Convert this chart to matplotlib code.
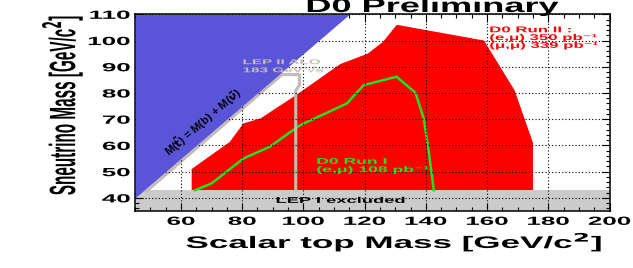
import numpy as np
import matplotlib

matplotlib.use("Agg")
import matplotlib.pyplot as plt
from matplotlib.patheffects import AbstractPathEffect
from matplotlib.ticker import MultipleLocator
from matplotlib.transforms import Affine2D

# exclusion contours in the (scalar top mass, sneutrino mass) plane, GeV/c^2
run2_x = [63.5, 63.5, 76, 80.4, 86, 98, 112, 121, 126, 130.5, 159, 169, 175, 175]
run2_y = [43, 51, 61.4, 68.4, 70.3, 79.5, 91, 95, 99.5, 106, 100, 81, 61, 43]

run1_x = [64.6, 70, 80.4, 89, 98.9, 114.2, 119.7, 130.4, 136.6, 139.3, 140.9, 142.6]
run1_y = [42.9, 45.5, 55, 59.5, 67.7, 76, 83, 86.2, 80.1, 70.3, 58.2, 42.9]

lep2_x = [48.8, 93, 98.7, 98.7, 97.5, 97.5]
lep2_y = [42.6, 87, 87, 83, 81, 43]

lep1_limit = 43.0
m_b = 5.0
kin_x = np.array([45.0, 115.0])

x_ticks = [60, 80, 100, 120, 140, 160, 180, 200]
y_ticks = [40, 50, 60, 70, 80, 90, 100, 110]

run2_label = "D0 Run II :\n(e,\u03bc) 350 pb\u207b\u00b9\n(\u03bc,\u03bc) 339 pb\u207b\u00b9"
run1_label = "D0 Run I\n(e,\u03bc) 108 pb\u207b\u00b9"

BLUE = "#5a55d8"
RED = "#ff0000"
GREEN = "#22e022"
LEPGRAY = "#c4bcb4"


class Stretch(AbstractPathEffect):
    """Scale glyphs in the text's own frame (the original plot was resized non-uniformly)."""

    def __init__(self, sx=1.0, sy=1.0, anchor="center"):
        super().__init__()
        self.sx, self.sy = sx, sy
        self.anchor = anchor

    def draw_path(self, renderer, gc, tpath, affine, rgbFace=None):
        bb = tpath.get_extents()
        x0 = {"left": bb.x0, "right": bb.x1}.get(self.anchor, (bb.x0 + bb.x1) / 2)
        y0 = (bb.y0 + bb.y1) / 2
        local = Affine2D().translate(-x0, -y0).scale(self.sx, self.sy).translate(x0, y0)
        renderer.draw_path(gc, tpath, local + affine, rgbFace)


plt.rcParams["font.family"] = ["Liberation Sans", "DejaVu Sans"]
plt.rcParams["font.weight"] = "bold"

fig = plt.figure(figsize=(6.33, 2.68), dpi=100)
ax = fig.add_axes([0.2133, 0.2127, 0.7496, 0.7339])
ax.set_xlim(45, 200)
ax.set_ylim(35, 110)

ax.axhspan(35, lep1_limit, color="#cbcbcb", lw=0, zorder=0.8)
ax.fill(run2_x, run2_y, color=RED, lw=0, zorder=1)
ax.plot(run1_x, run1_y, color=GREEN, lw=1.8, zorder=2)
ax.plot(lep2_x, lep2_y, color=LEPGRAY, lw=2.2, solid_joinstyle="miter", zorder=2.2)
ax.fill_between(kin_x, kin_x - m_b, 110, color=BLUE, lw=0, zorder=3)

ax.set_axisbelow(False)
ax.grid(True, which="major", color="k", linestyle=(0, (1, 2)), linewidth=0.8)
ax.set_xticks(x_ticks)
ax.set_yticks(y_ticks)
ax.xaxis.set_minor_locator(MultipleLocator(5))
ax.yaxis.set_minor_locator(MultipleLocator(2))
ax.tick_params(which="both", direction="in", top=True, right=True, width=0.8, labelsize=8.5, pad=3.5)
ax.tick_params(which="major", length=6)
ax.tick_params(which="minor", length=3)
for sp in ax.spines.values():
    sp.set_linewidth(1.1)
    sp.set_zorder(5)

for tick in ax.xaxis.get_major_ticks():
    tick.label1.set_path_effects([Stretch(2.2)])
for tick in ax.yaxis.get_major_ticks():
    tick.label1.set_path_effects([Stretch(2.2, anchor="right")])

ax.set_xlabel("Scalar top Mass [GeV/c$^{\\mathbf{2}}$]", fontsize=12, fontweight="bold", va="top",
              path_effects=[Stretch(2.1)])
ax.xaxis.set_label_coords(0.546, -0.0966)
ax.set_ylabel("Sneutrino Mass [GeV/c$^{\\mathbf{2}}$]", fontsize=11, fontweight="bold",
              ha="center", va="center", path_effects=[Stretch(sy=2.4)])
ax.yaxis.set_label_coords(-0.154, 0.539)
ax.set_title("D0 Preliminary", x=0.627, y=1.0117, pad=0, fontsize=14, fontweight="bold",
             path_effects=[Stretch(1.86)])

ax.text(67.3, 69.0, r"M($\tilde{\mathbf{t}}$) = M(b) + M($\tilde{\nu}$)", rotation=45,
        transform_rotates_text=True, rotation_mode="anchor", ha="center", va="center",
        fontsize=8, color="k", zorder=4)
ax.text(80.3, 91.0, "LEP II ALO", fontsize=5, color=LEPGRAY, va="baseline", zorder=4,
        path_effects=[Stretch(2.2, anchor="left")])
ax.text(80.3, 87.9, "183 GeV \u221as", fontsize=5, color=LEPGRAY, va="baseline", zorder=4,
        path_effects=[Stretch(2.2, anchor="left")])
ax.text(112.2, 38.1, "LEP I excluded", fontsize=6, ha="center", va="baseline", zorder=4,
        path_effects=[Stretch(2.2)])

ax.text(160.9, 97.3, run2_label, fontsize=5.5, color=RED, va="baseline", linespacing=1.1,
        zorder=4, path_effects=[Stretch(2.2, 1.1, anchor="left")])
ax.text(104.4, 49.9, run1_label, fontsize=5.5, color=GREEN, va="baseline", linespacing=1.2,
        zorder=4, path_effects=[Stretch(2.3, 1.1, anchor="left")])

fig.savefig("out.png", dpi=100)
